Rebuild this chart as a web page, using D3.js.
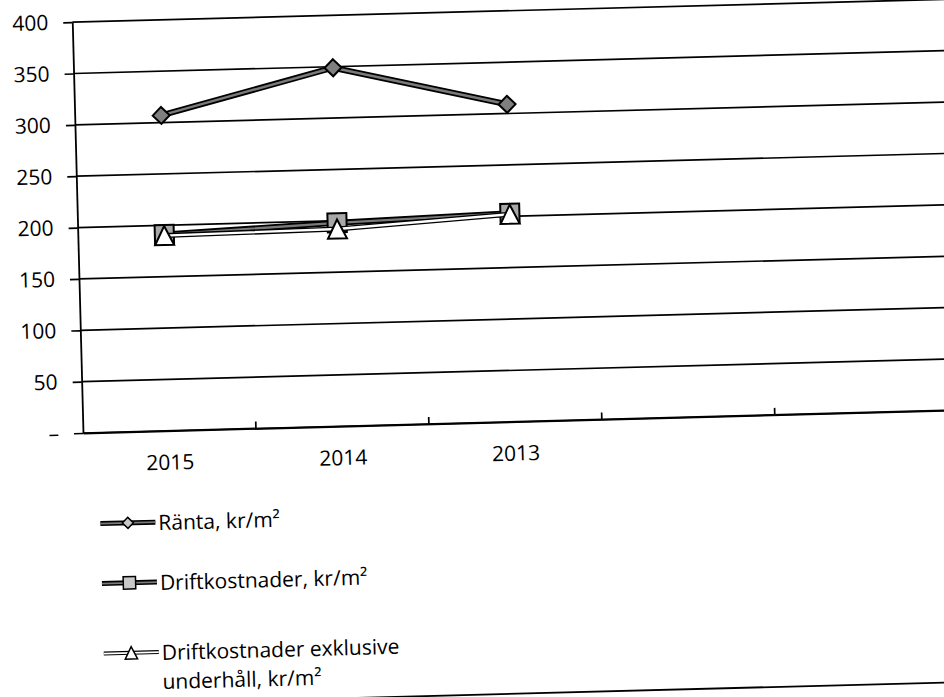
<!DOCTYPE html>
<html>
<head>
<meta charset="utf-8">
<script src="https://cdn.jsdelivr.net/npm/d3@7"></script>
<style>
  html, body { margin: 0; padding: 0; background: #fff; }
  svg { display: block; font-family: "Open Sans", sans-serif; }
</style>
</head>
<body>
<svg id="chart" width="944" height="697"></svg>
<script>
// Category labels (two trailing slots on the axis stay empty)
const categories = ["2015", "2014", "2013"];
const emptySlots = 2;

// Value axis ticks
const yTickValues = [0, 50, 100, 150, 200, 250, 300, 350, 400];

// Series values, kr/m²
const ranta = [307, 349, 309];
const driftkostnader = [191, 198, 203];
const driftExklUnderhall = [190, 192, 202];

const seriesLabels = [
  "Ränta, kr/m²",
  "Driftkostnader, kr/m²",
  "Driftkostnader exklusive underhåll, kr/m²"
];

// ---- layout ----
const origin = { x: 83, y: 433 };
const plotTop = 22;
const plotRight = 948;
const tilt = -1.5;               // the whole sheet sits slightly askew
const fontSize = 21;

const svg = d3.select("#chart");
const g = svg.append("g")
  .attr("transform", `rotate(${tilt},${origin.x},${origin.y})`);

const slots = d3.range(categories.length + emptySlots);
const x = d3.scaleBand().domain(slots).range([origin.x, plotRight]);
const cx = i => x(i) + x.bandwidth() / 2;
const y = d3.scaleLinear().domain([0, 400]).range([origin.y, plotTop]);

// horizontal gridlines
g.append("g")
  .selectAll("line")
  .data(yTickValues)
  .join("line")
  .attr("x1", origin.x)
  .attr("x2", plotRight + 20)
  .attr("y1", d => y(d))
  .attr("y2", d => y(d))
  .attr("stroke", "#000")
  .attr("stroke-width", 1.7);

// value axis
const yAxis = g.append("g")
  .attr("transform", `translate(${origin.x},0)`)
  .call(d3.axisLeft(y)
    .tickValues(yTickValues)
    .tickSize(9)
    .tickSizeOuter(0)
    .tickPadding(15)
    .tickFormat(d => d === 0 ? "–" : d));
yAxis.select(".domain").attr("stroke", "#000").attr("stroke-width", 1.8);
yAxis.selectAll(".tick line").attr("stroke", "#000").attr("stroke-width", 1.7);
yAxis.selectAll(".tick text")
  .attr("fill", "#000")
  .style("font-family", "'Open Sans', sans-serif")
  .style("font-size", fontSize + "px");

// category axis
const xAxis = g.append("g")
  .attr("transform", `translate(0,${origin.y})`)
  .call(d3.axisBottom(x)
    .tickSize(0)
    .tickSizeOuter(0)
    .tickPadding(24)
    .tickFormat(i => categories[i] ?? ""));
xAxis.select(".domain").attr("stroke", "#000").attr("stroke-width", 1.8);
xAxis.selectAll(".tick text")
  .attr("fill", "#000")
  .style("font-family", "'Open Sans', sans-serif")
  .style("font-size", fontSize + "px");

// small inward tick marks between categories
g.append("g")
  .selectAll("line")
  .data(slots.slice(1))
  .join("line")
  .attr("x1", i => x(i))
  .attr("x2", i => x(i))
  .attr("y1", origin.y)
  .attr("y2", origin.y - 7)
  .attr("stroke", "#000")
  .attr("stroke-width", 1.7);

// ---- marker shapes ----
const diamondPath = (px, py, r) =>
  `M${px},${py - r}L${px + r},${py}L${px},${py + r}L${px - r},${py}Z`;
const squarePath = (px, py, r) =>
  `M${px - r},${py - r}H${px + r}V${py + r}H${px - r}Z`;
const trianglePath = (px, py, r) =>
  `M${px},${py - r}L${px + r},${py + r}L${px - r},${py + r}Z`;

const series = [
  { label: seriesLabels[0], values: ranta, outer: 6, inner: 2.4, innerColor: "#7a7a7a",
    shape: diamondPath, size: 8.5, fill: "#7f7f7f" },
  { label: seriesLabels[1], values: driftkostnader, outer: 6, inner: 2.4, innerColor: "#7a7a7a",
    shape: squarePath, size: 9.5, fill: "#a8a8a8" },
  { label: seriesLabels[2], values: driftExklUnderhall, outer: 5, inner: 2.4, innerColor: "#ffffff",
    shape: trianglePath, size: 9.5, fill: "#ffffff" }
];

const line = d3.line().x((d, i) => cx(i)).y(d => y(d));

series.forEach(s => {
  const sg = g.append("g");
  sg.append("path").attr("d", line(s.values))
    .attr("fill", "none").attr("stroke", "#000")
    .attr("stroke-width", s.outer).attr("stroke-linejoin", "round");
  sg.append("path").attr("d", line(s.values))
    .attr("fill", "none").attr("stroke", s.innerColor)
    .attr("stroke-width", s.inner).attr("stroke-linejoin", "round");
  sg.selectAll(".marker")
    .data(s.values)
    .join("path")
    .attr("class", "marker")
    .attr("d", (d, i) => s.shape(cx(i), y(d), s.size))
    .attr("fill", s.fill)
    .attr("stroke", "#000")
    .attr("stroke-width", 2);
});

// ---- legend ----
const legendRowY = [532, 592, 662];
const legendTextX = 156;
const legendLineX = [98, 153];
const lineHeight = 29;
const wrapWidth = 255;

series.forEach((s, k) => {
  const base = legendRowY[k];
  const lg = g.append("g");
  const symY = base - 8;
  lg.append("line")
    .attr("x1", legendLineX[0]).attr("x2", legendLineX[1])
    .attr("y1", symY).attr("y2", symY)
    .attr("stroke", "#000").attr("stroke-width", s.outer - 1);
  lg.append("line")
    .attr("x1", legendLineX[0]).attr("x2", legendLineX[1])
    .attr("y1", symY).attr("y2", symY)
    .attr("stroke", s.innerColor).attr("stroke-width", s.inner - 0.6);
  lg.append("path")
    .attr("d", s.shape((legendLineX[0] + legendLineX[1]) / 2, symY, s.size * 0.65))
    .attr("fill", s.fill === "#ffffff" ? "#fff" : "#c8c8c8")
    .attr("stroke", "#000").attr("stroke-width", 1.5);

  const text = lg.append("text")
    .attr("x", legendTextX).attr("y", base)
    .attr("fill", "#000")
    .style("font-size", fontSize + "px");
  // simple word wrap
  const words = s.label.split(" ");
  let lineWords = [];
  let tspan = text.append("tspan").attr("x", legendTextX).attr("y", base);
  let row = 0;
  words.forEach(w => {
    lineWords.push(w);
    tspan.text(lineWords.join(" "));
    if (tspan.node().getComputedTextLength() > wrapWidth && lineWords.length > 1) {
      lineWords.pop();
      tspan.text(lineWords.join(" "));
      lineWords = [w];
      row += 1;
      tspan = text.append("tspan")
        .attr("x", legendTextX)
        .attr("y", base + row * lineHeight)
        .text(w);
    }
  });
});

// outer border edge near the bottom
g.append("line")
  .attr("x1", -20).attr("x2", 1000)
  .attr("y1", 705).attr("y2", 705)
  .attr("stroke", "#000").attr("stroke-width", 1.8);
</script>
</body>
</html>
